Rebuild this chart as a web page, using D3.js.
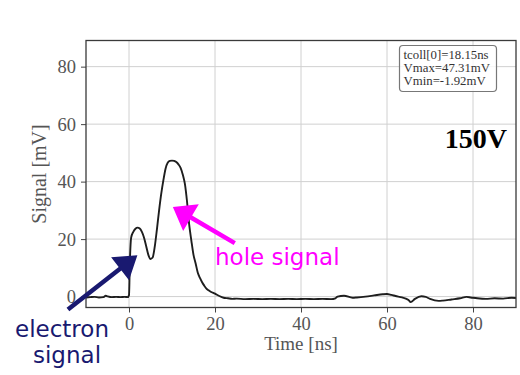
<!DOCTYPE html>
<html>
<head>
<meta charset="utf-8">
<script src="https://cdn.jsdelivr.net/npm/d3@7"></script>
<style>
  html, body { margin: 0; padding: 0; background: #fff; }
  svg { display: block; }
</style>
</head>
<body>
<svg id="chart" width="520" height="375"></svg>
<script>
// Oscilloscope trace at 150 V bias: time in ns, signal in mV
const timeNs = [-10, -9, -8, -7, -6, -5.4, -5, -4, -3, -2, -1, -0.3, 0, 0.2, 0.5, 1, 1.5, 2, 2.5, 3, 3.5, 4, 4.5, 5, 5.5, 6, 6.5, 7, 7.5, 8, 8.5, 9, 9.5, 10, 10.5, 11, 11.5, 12, 12.5, 13, 13.5, 14, 14.5, 15, 15.5, 16, 16.5, 17, 17.5, 18, 18.5, 19, 20, 21, 22, 23, 24, 25, 27, 29, 31, 33, 35, 37, 39, 41, 43, 45, 47, 48, 48.5, 50, 52, 53, 55, 57, 59, 60, 61, 62, 63.5, 65, 65.5, 66.5, 68, 69, 70, 72, 73, 75, 77, 78.5, 79.5, 81, 83, 85, 87, 89, 90];
const signalMv = [-0.3, -0.2, -0.1, -0.3, -0.2, 0.3, 0.1, -0.2, -0.1, -0.2, -0.1, -0.2, 0.5, 12, 20.5, 22.5, 23.6, 24.0, 23.7, 22.5, 20.5, 17.5, 14.5, 13.1, 13.6, 17.5, 23.5, 30, 35.8, 40.5, 44.5, 46.6, 47.2, 47.31, 47.2, 46.8, 46.0, 44.8, 42.5, 39.2, 33, 25, 19.5, 14.5, 11.5, 8.3, 6.5, 5.0, 3.8, 2.8, 2.2, 1.7, 1.0, 0.2, -0.4, -0.6, -0.8, -0.7, -0.9, -0.8, -0.9, -0.8, -0.9, -0.8, -0.9, -0.8, -0.9, -0.8, -0.9, -0.6, 0.0, 0.3, -0.4, -0.3, 0.0, 0.4, 0.8, 0.9, 0.6, 0.2, -0.3, -1.2, -1.92, -0.8, 0.1, -0.1, -0.8, -1.5, -1.4, -1.0, -0.6, -0.1, -0.3, -0.6, -0.8, -0.6, -0.7, -0.4, -0.5];

const xTicks = [0, 20, 40, 60, 80];
const yTicks = [0, 20, 40, 60, 80];
const statLines = ["tcoll[0]=18.15ns", "Vmax=47.31mV", "Vmin=-1.92mV"];
const biasLabel = "150V";

const svg = d3.select("#chart");
const plotLeft = 86, plotRight = 516, plotTop = 40.5, plotBottom = 307.5;

const x = d3.scaleLinear().domain([-10, 90]).range([plotLeft, plotRight]);
const y = d3.scaleLinear().domain([-3.8, 89.1]).range([plotBottom, plotTop]);

const serif = "'Liberation Serif', 'Times New Roman', serif";
const sans = "'DejaVu Sans', sans-serif";
const textGray = "#555";

// grid
const grid = svg.append("g").attr("stroke", "#d0d0d0").attr("stroke-width", 1);
grid.selectAll("line.v").data(xTicks).join("line").attr("class", "v")
  .attr("x1", d => x(d)).attr("x2", d => x(d))
  .attr("y1", plotTop).attr("y2", plotBottom);
grid.selectAll("line.h").data(yTicks).join("line").attr("class", "h")
  .attr("x1", plotLeft).attr("x2", plotRight)
  .attr("y1", d => y(d)).attr("y2", d => y(d));

// axes
const xAxis = svg.append("g")
  .attr("transform", `translate(0,${plotBottom})`)
  .call(d3.axisBottom(x).tickValues(xTicks).tickSize(5).tickPadding(4).tickFormat(d3.format("d")));
const yAxis = svg.append("g")
  .attr("transform", `translate(${plotLeft},0)`)
  .call(d3.axisLeft(y).tickValues(yTicks).tickSize(5).tickPadding(5).tickFormat(d3.format("d")));
[xAxis, yAxis].forEach(a => {
  a.select(".domain").remove();
  a.selectAll(".tick line").attr("stroke", "#444").attr("stroke-width", 1);
  a.selectAll(".tick text").attr("fill", textGray)
    .style("font-family", serif).style("font-size", "18.5px");
});

// trace
const line = d3.line().x((d, i) => x(timeNs[i])).y(d => y(d)).curve(d3.curveMonotoneX);
svg.append("defs").append("clipPath").attr("id", "plotClip")
  .append("rect").attr("x", plotLeft).attr("y", plotTop)
  .attr("width", plotRight - plotLeft).attr("height", plotBottom - plotTop);
svg.append("path")
  .datum(signalMv)
  .attr("clip-path", "url(#plotClip)")
  .attr("fill", "none")
  .attr("stroke", "#1e1e1e")
  .attr("stroke-width", 1.9)
  .attr("stroke-linejoin", "round")
  .attr("d", line);

// frame
svg.append("rect")
  .attr("x", plotLeft).attr("y", plotTop)
  .attr("width", plotRight - plotLeft).attr("height", plotBottom - plotTop)
  .attr("fill", "none").attr("stroke", "#3a3a3a").attr("stroke-width", 1.3);

// axis titles
svg.append("text")
  .attr("x", (plotLeft + plotRight) / 2).attr("y", 350)
  .attr("text-anchor", "middle")
  .attr("fill", textGray)
  .style("font-family", serif).style("font-size", "19px")
  .text("Time [ns]");
svg.append("text")
  .attr("transform", `translate(46,${(plotTop + plotBottom) / 2}) rotate(-90)`)
  .attr("text-anchor", "middle")
  .attr("fill", textGray)
  .style("font-family", serif).style("font-size", "20px")
  .text("Signal [mV]");

// stats box
const box = svg.append("g");
box.append("rect")
  .attr("x", 399.5).attr("y", 45.5).attr("width", 97).attr("height", 46)
  .attr("rx", 3.5)
  .attr("fill", "#fff").attr("fill-opacity", 0.8)
  .attr("stroke", "#777").attr("stroke-width", 1.2);
box.selectAll("text").data(statLines).join("text")
  .attr("x", 403.5)
  .attr("y", (d, i) => 58.5 + i * 13.3)
  .attr("fill", "#333")
  .style("font-family", serif).style("font-size", "12.8px")
  .text(d => d);

// bias voltage
svg.append("text")
  .attr("x", 507).attr("y", 148)
  .attr("text-anchor", "end")
  .attr("fill", "#000")
  .style("font-family", serif).style("font-size", "28px").style("font-weight", "bold")
  .text(biasLabel);

// annotation arrows (tail / tip given in data coordinates)
function arrow(tail, tip, color, headLen, headWidth, shaftWidth) {
  const x0 = x(tail[0]), y0 = y(tail[1]);
  const x1 = x(tip[0]), y1 = y(tip[1]);
  const dx = x1 - x0, dy = y1 - y0;
  const len = Math.hypot(dx, dy);
  const ux = dx / len, uy = dy / len;
  const nx = -uy, ny = ux;
  const bx = x1 - ux * headLen, by = y1 - uy * headLen;
  const sw = shaftWidth / 2, hw = headWidth / 2;
  const pts = [
    [x0 + nx * sw, y0 + ny * sw],
    [bx + nx * sw, by + ny * sw],
    [bx + nx * hw, by + ny * hw],
    [x1, y1],
    [bx - nx * hw, by - ny * hw],
    [bx - nx * sw, by - ny * sw],
    [x0 - nx * sw, y0 - ny * sw]
  ];
  svg.append("polygon")
    .attr("points", pts.map(p => p.join(",")).join(" "))
    .attr("fill", color);
}

const holeColor = "#ff00ff";
const electronColor = "#191970";

arrow([24.6, 18.6], [10.2, 31.2], holeColor, 21, 31, 4.5);
arrow([-14.2, -4.5], [1.95, 14.4], electronColor, 22, 29, 4.5);

svg.append("text")
  .attr("x", 215).attr("y", 265)
  .attr("fill", holeColor)
  .style("font-family", sans).style("font-size", "23px")
  .text("hole signal");
svg.append("text")
  .attr("x", 15).attr("y", 337)
  .attr("fill", electronColor)
  .style("font-family", sans).style("font-size", "23px")
  .text("electron");
svg.append("text")
  .attr("x", 33).attr("y", 363)
  .attr("fill", electronColor)
  .style("font-family", sans).style("font-size", "23px")
  .text("signal");
</script>
</body>
</html>
